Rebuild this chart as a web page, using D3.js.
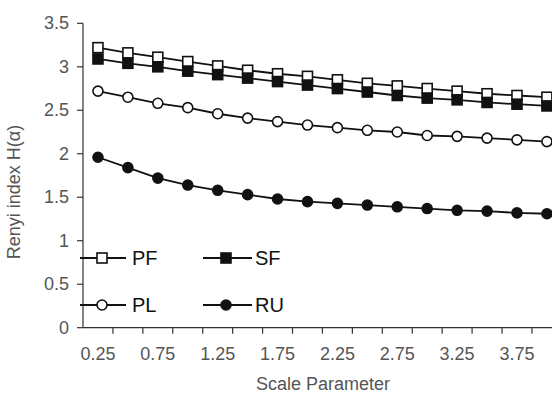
<!DOCTYPE html>
<html>
<head>
<meta charset="utf-8">
<script src="https://cdn.jsdelivr.net/npm/d3@7"></script>
<style>
  html, body { margin: 0; padding: 0; background: #fff; }
  svg { display: block; font-family: "Liberation Sans", Arial, sans-serif; }
  .tick-label { fill: #555; font-size: 18px; }
  .axis-title { fill: #555; font-size: 18px; }
  .legend-label { fill: #111; font-size: 20px; }
</style>
</head>
<body>
<svg id="chart" width="552" height="397"></svg>
<script>
document.addEventListener("DOMContentLoaded", () => {

/* ============================================================
   DATA
============================================================ */
const categories = ["0.25","0.5","0.75","1","1.25","1.5","1.75","2",
                    "2.25","2.5","2.75","3","3.25","3.5","3.75","4"];
const tickLabels = ["0.25","0.75","1.25","1.75","2.25","2.75","3.25","3.75"];
const yTicks = [0, 0.5, 1, 1.5, 2, 2.5, 3, 3.5];

const pf = [3.22, 3.16, 3.11, 3.06, 3.01, 2.96, 2.92, 2.89, 2.85, 2.81, 2.78, 2.75, 2.72, 2.69, 2.67, 2.65];
const sf = [3.09, 3.04, 3.00, 2.95, 2.91, 2.87, 2.83, 2.79, 2.75, 2.71, 2.67, 2.64, 2.62, 2.59, 2.57, 2.55];
const pl = [2.72, 2.65, 2.58, 2.53, 2.46, 2.41, 2.37, 2.33, 2.30, 2.27, 2.25, 2.21, 2.20, 2.18, 2.16, 2.14];
const ru = [1.96, 1.84, 1.72, 1.64, 1.58, 1.53, 1.48, 1.45, 1.43, 1.41, 1.39, 1.37, 1.35, 1.34, 1.32, 1.31];

const seriesNames = ["PF", "SF", "PL", "RU"];


/* ============================================================
   SCALES
============================================================ */
const svg = d3.select("#chart");
const left = 83, top = 23.3, bottom = 327.7;
const bandW = 29.93;

const x = d3.scaleBand()
  .domain(categories)
  .range([left, left + bandW * categories.length])
  .paddingInner(0).paddingOuter(0);

const y = d3.scaleLinear().domain([0, 3.5]).range([bottom, top]);

const cx = c => x(c) + x.bandwidth() / 2;


/* ============================================================
   AXES
============================================================ */
const ax = svg.append("g").attr("stroke", "#333").attr("stroke-width", 1.2);

// y axis line + ticks
ax.append("line").attr("x1", left).attr("x2", left).attr("y1", top).attr("y2", bottom);
yTicks.forEach(t => {
  ax.append("line").attr("x1", left - 6).attr("x2", left)
    .attr("y1", y(t)).attr("y2", y(t));
  svg.append("text").attr("class", "tick-label")
    .attr("x", left - 14).attr("y", y(t) + 6)
    .attr("text-anchor", "end")
    .text(d3.format("")(t));
});

// x axis line + ticks between categories
ax.append("line").attr("x1", left).attr("x2", 552).attr("y1", bottom).attr("y2", bottom);
categories.forEach(c => {
  const xp = x(c) + x.bandwidth();
  ax.append("line").attr("x1", xp).attr("x2", xp)
    .attr("y1", bottom).attr("y2", bottom + 6);
});
tickLabels.forEach(c => {
  svg.append("text").attr("class", "tick-label")
    .attr("x", cx(c)).attr("y", 360)
    .attr("text-anchor", "middle")
    .text(c);
});

// titles
svg.append("text").attr("class", "axis-title")
  .attr("x", 323).attr("y", 390)
  .attr("text-anchor", "middle")
  .text("Scale Parameter");

svg.append("text").attr("class", "axis-title")
  .attr("transform", "translate(20,192) rotate(-90)")
  .attr("text-anchor", "middle")
  .text("Renyi index H(α)");


/* ============================================================
   SERIES
============================================================ */
const styles = {
  PF: { values: pf, shape: "square", fill: "#fff" },
  SF: { values: sf, shape: "square", fill: "#111" },
  PL: { values: pl, shape: "circle", fill: "#fff" },
  RU: { values: ru, shape: "circle", fill: "#111" }
};

function drawMarker(g, shape, fill, px, py) {
  if (shape === "square") {
    g.append("rect")
      .attr("x", px - 5).attr("y", py - 5)
      .attr("width", 10).attr("height", 10)
      .attr("fill", fill).attr("stroke", "#111").attr("stroke-width", 1.6);
  } else {
    g.append("circle")
      .attr("cx", px).attr("cy", py).attr("r", 5)
      .attr("fill", fill).attr("stroke", "#111").attr("stroke-width", 1.6);
  }
}

const line = d3.line().x((d, i) => cx(categories[i])).y(d => y(d));

seriesNames.forEach(name => {
  const s = styles[name];
  const g = svg.append("g");
  g.append("path")
    .attr("d", line(s.values))
    .attr("fill", "none").attr("stroke", "#111").attr("stroke-width", 1.8);
  s.values.forEach((v, i) => drawMarker(g, s.shape, s.fill, cx(categories[i]), y(v)));
});


/* ============================================================
   LEGEND
============================================================ */
const legendPos = {
  PF: { x0: 80, x1: 126, mx: 102, tx: 132, y: 258 },
  SF: { x0: 203, x1: 252, mx: 226, tx: 255, y: 258 },
  PL: { x0: 80, x1: 126, mx: 102, tx: 132, y: 305 },
  RU: { x0: 203, x1: 252, mx: 226, tx: 255, y: 305 }
};

seriesNames.forEach(name => {
  const p = legendPos[name], s = styles[name];
  const g = svg.append("g");
  g.append("line").attr("x1", p.x0).attr("x2", p.x1).attr("y1", p.y).attr("y2", p.y)
    .attr("stroke", "#111").attr("stroke-width", 1.8);
  drawMarker(g, s.shape, s.fill, p.mx, p.y);
  g.append("text").attr("class", "legend-label")
    .attr("x", p.tx).attr("y", p.y + 7)
    .text(name);
});

}); // END DOMContentLoaded
</script>
</body>
</html>
